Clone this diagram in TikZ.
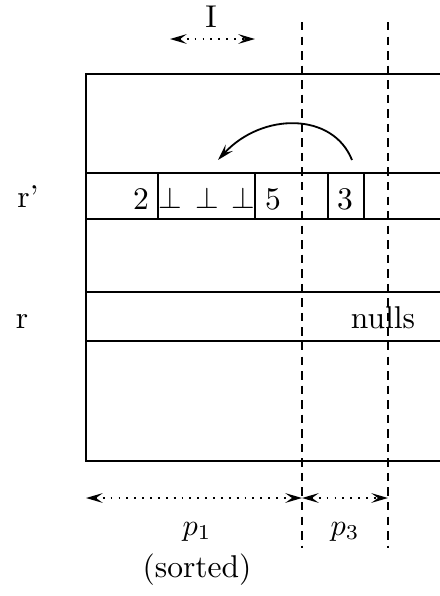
\documentclass[tikz,border=0pt]{standalone}
\usepackage{tikz}
\usetikzlibrary{arrows.meta}
\tikzset{
  >={Stealth[length=5.5pt,width=3.2pt,inset=2.2pt]},
  frameline/.style={line width=0.6pt},
  cutline/.style={line width=0.6pt,dash pattern=on 2.8pt off 2pt},
  spanarrow/.style={line width=0.6pt,dotted,<->},
  lbl/.style={inner sep=0pt,anchor=base,font=\fontsize{10.4}{12}\selectfont}
}
\begin{document}
\begin{tikzpicture}[x=0.33pt,y=-0.33pt]
  \useasboundingbox (0,0) rectangle (440,596);
  % table outline and rows
  \draw[frameline] (440,74) -- (86,74) -- (86,461) -- (440,461);
  \foreach \y in {173,219,292,341}
    \draw[frameline] (86,\y) -- (440,\y);
  \foreach \x in {158,255,328,364}
    \draw[frameline] (\x,173) -- (\x,219);
  % partition cuts
  \draw[cutline] (302,22) -- (302,548);
  \draw[cutline] (388,22) -- (388,548);
  % labels
  \node[lbl] (rp) at (28,207) {r'};
  \node[lbl] (r) at (22,328) {r};
  \node[lbl] (nulls) at (383,328) {nulls};
  \node[lbl] (two) at (141,209) {2};
  \node[lbl] (bots) at (207,208) {$\perp\hskip4.3pt\perp\hskip4.3pt\perp$};
  \node[lbl] (five) at (273,209) {5};
  \node[lbl] (three) at (345,209) {3};
  \node[lbl] (ilbl) at (211,27) {I};
  \node[lbl] (pone) at (197,535) {$p_1$};
  \node[lbl] (pthree) at (345,535) {$p_3$};
  \node[lbl] (sorted) at (197,577) {(sorted)};
  % arrows
  \coordinate (ia) at (170,39);
  \coordinate (ib) at (255,39);
  \coordinate (pa) at (86,498);
  \coordinate (pb) at (302,498);
  \coordinate (pc) at (388,498);
  \coordinate (mvfrom) at (352,160);
  \coordinate (mvto) at (218,160);
  \draw[spanarrow] (ia) -- (ib);
  \draw[spanarrow] (pa) -- (pb);
  \draw[spanarrow] (pb) -- (pc);
  \draw[line width=0.6pt,->] (mvfrom) .. controls (333,112) and (262,112) .. (mvto);
\end{tikzpicture}
\end{document}
